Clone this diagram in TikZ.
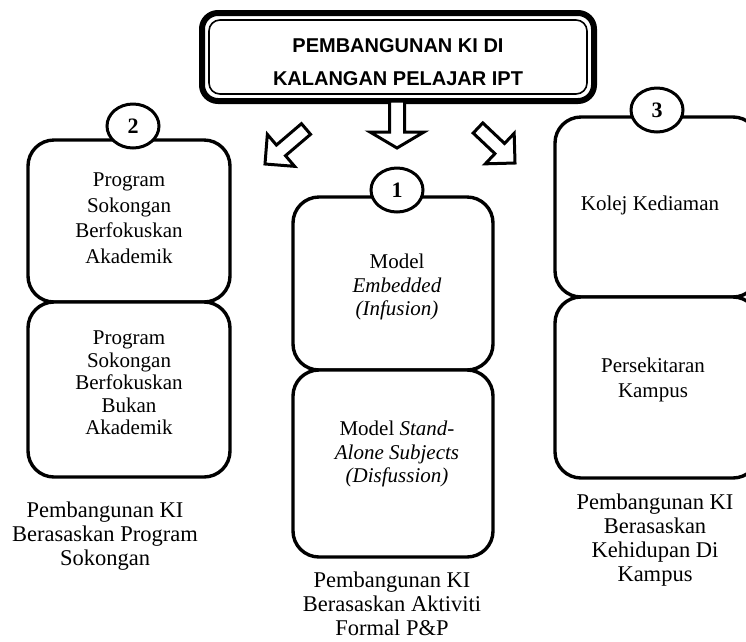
\documentclass[tikz,border=0pt]{standalone}
\usepackage{fontspec}
\setmainfont{Liberation Serif}
\newfontfamily\titlefont{Liberation Sans}
\usetikzlibrary{calc,shapes.geometric}
\newcommand\blockarrow[6]{% name, tail, tip, shaft half, head half, head length
  \coordinate (#1h) at ($(#3)!#6!(#2)$);
  \draw[hollow] ($(#2)!#4!90:(#3)$) -- ($(#1h)!#4!90:(#3)$) -- ($(#1h)!#5!90:(#3)$) -- (#3)
    -- ($(#1h)!#5!-90:(#3)$) -- ($(#1h)!#4!-90:(#3)$) -- ($(#2)!#4!-90:(#3)$) -- cycle;}
\begin{document}
\begin{tikzpicture}[x=1pt,y=-1pt,
  box/.style={draw, line width=3.4pt, rounded corners=26pt, fill=white, inner sep=0pt},
  num/.style={draw, ellipse, line width=3pt, fill=white, minimum width=52pt, minimum height=44pt, inner sep=0pt, font=\fontsize{22}{22}\selectfont\bfseries},
  txt/.style={align=center, inner sep=0pt},
  captxt/.style={align=center, inner sep=0pt, font=\fontsize{22.5}{24}\selectfont},
  hollow/.style={draw, line width=3pt, fill=white, line join=miter}]
\useasboundingbox (0,0) rectangle (746,641);
\fill[white] (0,0) rectangle (746,641);
% title box
\node[draw, line width=6pt, rounded corners=16pt, minimum width=392pt, minimum height=88pt, inner sep=0pt] (top) at (398,57) {};
\node[draw, line width=1.6pt, rounded corners=11pt, minimum width=378pt, minimum height=74pt, inner sep=0pt] (topin) at (398,57) {};
\node[txt, font=\titlefont\bfseries\fontsize{20}{33}\selectfont] (title) at (398,62) {PEMBANGUNAN KI DI\\KALANGAN PELAJAR IPT};
% arrows
\coordinate (a1t) at (397,101); \coordinate (a1p) at (397,148);
\coordinate (a2t) at (306,129); \coordinate (a2p) at (265,164);
\coordinate (a3t) at (478,128); \coordinate (a3p) at (515,163);
\blockarrow{a1}{a1t}{a1p}{7.5pt}{27pt}{16pt}
\blockarrow{a2}{a2t}{a2p}{7pt}{21pt}{21pt}
\blockarrow{a3}{a3t}{a3p}{7pt}{21pt}{21pt}
% column 2
\node[box, minimum width=202pt, minimum height=162pt] (b2a) at (129,221) {};
\node[box, minimum width=202pt, minimum height=175pt] (b2b) at (129,389.5) {};
\node[num] (c2) at (133,126) {2};
\node[txt, font=\fontsize{21}{25.5}\selectfont] (t2a) at (129,218) {Program\\Sokongan\\Berfokuskan\\Akademik};
\node[txt, font=\fontsize{21}{22.5}\selectfont] (t2b) at (129,383) {Program\\Sokongan\\Berfokuskan\\Bukan\\Akademik};
% column 1
\node[box, minimum width=200pt, minimum height=173pt] (b1a) at (393,283.5) {};
\node[box, minimum width=200pt, minimum height=187pt] (b1b) at (393,463.5) {};
\node[num] (c1) at (397,190) {1};
\node[txt, font=\fontsize{21}{23.5}\selectfont] (t1a) at (397,287) {Model\\\textit{Embedded}\\\textit{(Infusion)}};
\node[txt, font=\fontsize{21}{23.5}\selectfont] (t1b) at (397,454) {Model \textit{Stand-}\\\textit{Alone Subjects}\\\textit{(Disfussion)}};
% column 3
\node[box, minimum width=204pt, minimum height=180pt] (b3a) at (657,207) {};
\node[box, minimum width=204pt, minimum height=181pt] (b3b) at (657,387.5) {};
\node[num] (c3) at (657,110) {3};
\node[txt, font=\fontsize{21}{25}\selectfont] (t3a) at (650,205) {Kolej Kediaman};
\node[txt, font=\fontsize{21}{25}\selectfont] (t3b) at (653,380) {Persekitaran\\Kampus};
% captions
\node[captxt] (cap2) at (105,536) {Pembangunan KI\\Berasaskan Program\\Sokongan};
\node[captxt] (cap1) at (392,604) {Pembangunan KI\\Berasaskan Aktiviti\\Formal P\&P};
\node[captxt] (cap3) at (655,540) {Pembangunan KI\\Berasaskan\\Kehidupan Di\\Kampus};
\end{tikzpicture}
\end{document}
